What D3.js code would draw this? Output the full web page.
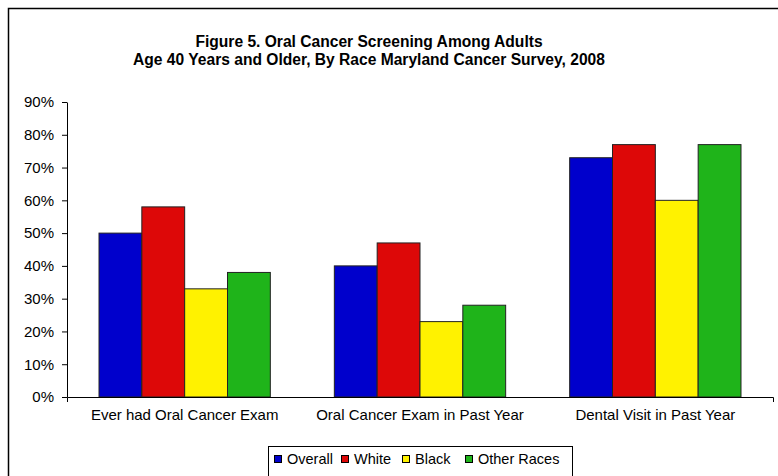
<!DOCTYPE html>
<html><head><meta charset="utf-8">
<script src="https://cdn.jsdelivr.net/npm/d3@7"></script>
<style>body{margin:0;background:#fff}svg{display:block;font-family:"Liberation Sans",Arial,sans-serif}</style>
</head><body>
<svg id="c" width="778" height="476"></svg>
<script>
const categories = ["Ever had Oral Cancer Exam", "Oral Cancer Exam in Past Year", "Dental Visit in Past Year"];
const seriesNames = ["Overall", "White", "Black", "Other Races"];
const seriesColors = ["#0000CC", "#DD0808", "#FFF200", "#1FB41A"];
const overall = [50, 40, 73];
const white = [58, 47, 77];
const black = [33, 23, 60];
const otherRaces = [38, 28, 77];
const yTicks = [0, 10, 20, 30, 40, 50, 60, 70, 80, 90];
const titleLines = ["Figure 5. Oral Cancer Screening Among Adults", "Age 40 Years and Older, By Race Maryland Cancer Survey, 2008"];

const seriesValues = [overall, white, black, otherRaces];
const svg = d3.select("#c");
const FONT = "Liberation Sans, Arial, sans-serif";

// outer frame (left and top edges visible)
svg.append("rect").attr("x", 8.5).attr("y", 8.5).attr("width", 790).attr("height", 490)
  .attr("fill", "none").attr("stroke", "#000").attr("stroke-width", 1.5);

svg.selectAll("text.title").data(titleLines).join("text")
  .attr("x", 369).attr("y", (d, i) => 47 + i * 18)
  .attr("text-anchor", "middle").attr("font-weight", "bold").attr("font-size", 15.6)
  .text(d => d);

const pLeft = 67, pRight = 773, pTop = 102, pBottom = 397;
const x0 = d3.scaleBand().domain(categories).range([pLeft, pRight]).paddingInner(0.272).paddingOuter(0.136);
const x1 = d3.scaleBand().domain(seriesNames).range([0, x0.bandwidth()]);
const y = d3.scaleLinear().domain([0, 90]).range([pBottom, pTop]);

const yAxis = svg.append("g").attr("transform", `translate(${pLeft},0)`)
  .call(d3.axisLeft(y).tickValues(yTicks).tickFormat(d => d + "%").tickSize(5).tickSizeOuter(0).tickPadding(8));
yAxis.select(".domain").attr("stroke", "#000");
yAxis.selectAll("line").attr("stroke", "#000");
yAxis.selectAll("text").attr("font-size", 15).attr("fill", "#000").attr("font-family", FONT);

const groups = svg.append("g").selectAll("g").data(categories).join("g")
  .attr("transform", d => `translate(${x0(d)},0)`);
groups.selectAll("rect").data((c, ci) => seriesNames.map((s, si) => ({s, v: seriesValues[si][ci], i: si})))
  .join("rect")
  .attr("x", d => x1(d.s)).attr("width", x1.bandwidth())
  .attr("y", d => y(d.v)).attr("height", d => y(0) - y(d.v))
  .attr("fill", d => seriesColors[d.i]).attr("stroke", "#222").attr("stroke-width", 1);

const xAxis = svg.append("g").attr("transform", `translate(0,${pBottom})`)
  .call(d3.axisBottom(x0).tickSize(0).tickSizeOuter(5));
xAxis.select(".domain").attr("stroke", "#000");
xAxis.selectAll("text").attr("font-size", 15).attr("fill", "#000").attr("y", 0).attr("dy", "1.5em")
  .attr("font-family", FONT);

// legend
const lg = svg.append("g");
lg.append("rect").attr("x", 268.5).attr("y", 446.5).attr("width", 304).attr("height", 40)
  .attr("fill", "#fff").attr("stroke", "#000");
const legendX = [274, 341, 402, 465];
const items = lg.selectAll("g").data(seriesNames).join("g")
  .attr("transform", (d, i) => `translate(${legendX[i]},0)`);
items.append("rect").attr("x", 0.5).attr("y", 455.5).attr("width", 7).attr("height", 7)
  .attr("fill", (d, i) => seriesColors[i]).attr("stroke", "#000");
items.append("text").attr("x", 13).attr("y", 464).attr("font-size", 14.5).text(d => d);
</script>
</body></html>
